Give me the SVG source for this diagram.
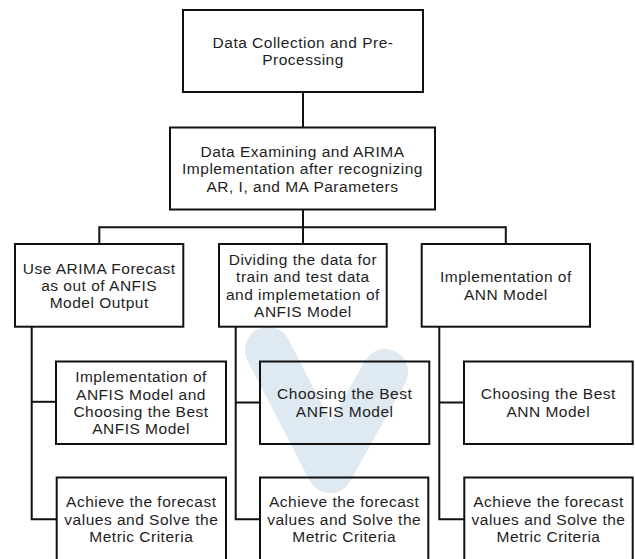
<svg xmlns="http://www.w3.org/2000/svg" width="635" height="559" viewBox="0 0 635 559">
  <defs>
    <style>
      .box { fill: none; stroke: #111111; stroke-width: 2; }
      .wm { fill: none; stroke: #dfe9f1; stroke-linecap: round; stroke-linejoin: round; }
      .conn { fill: none; stroke: #111111; stroke-width: 2; }
      text { font-family: "Liberation Sans", Arial, sans-serif; font-size: 15.5px; letter-spacing: 0.5px; fill: #1e1e1e; text-anchor: middle; }
    </style>
  </defs>
  <rect x="0" y="0" width="635" height="559" fill="#ffffff"/>

  <g id="watermark">
    <polyline class="wm" stroke-width="46" points="268,350 330,470 385,372"/>
  </g>

  <g id="connectors">
    <line class="conn" x1="303" y1="92" x2="303" y2="127.5"/>
    <line class="conn" x1="303" y1="209.5" x2="303" y2="244"/>
    <polyline class="conn" points="99.3,244 99.3,227.3 505.8,227.3 505.8,244"/>
    <polyline class="conn" points="31.7,326.7 31.7,519.3 56.5,519.3"/>
    <line class="conn" x1="31.7" y1="401.8" x2="56" y2="401.8"/>
    <polyline class="conn" points="235.7,326.7 235.7,519.3 260,519.3"/>
    <line class="conn" x1="235.7" y1="402.5" x2="260" y2="402.5"/>
    <polyline class="conn" points="439.3,326.7 439.3,519.3 464.3,519.3"/>
    <line class="conn" x1="439.3" y1="402.5" x2="464" y2="402.5"/>
  </g>

  <g id="n1">
    <rect class="box" x="183" y="10" width="240" height="82"/>
    <text x="303" y="47.9">Data Collection and Pre-</text>
    <text x="303" y="65.3">Processing</text>
  </g>

  <g id="n2">
    <rect class="box" x="170" y="127.5" width="265" height="82"/>
    <text x="302.5" y="156.7">Data Examining and ARIMA</text>
    <text x="302.5" y="174.1">Implementation  after recognizing</text>
    <text x="302.5" y="191.5">AR, I, and MA Parameters</text>
  </g>

  <g id="n3">
    <rect class="box" x="15" y="244" width="168.3" height="82.7"/>
    <text x="99.2" y="273.5">Use ARIMA Forecast</text>
    <text x="99.2" y="290.9">as out of ANFIS</text>
    <text x="99.2" y="308.3">Model Output</text>
  </g>

  <g id="n4">
    <rect class="box" x="219" y="244" width="167.7" height="82.7"/>
    <text x="302.9" y="264.8">Dividing the data for</text>
    <text x="302.9" y="282.2">train and test data</text>
    <text x="302.9" y="299.6">and implemetation  of</text>
    <text x="302.9" y="317">ANFIS Model</text>
  </g>

  <g id="n5">
    <rect class="box" x="421.7" y="244" width="168.3" height="82.7"/>
    <text x="505.9" y="282.2">Implementation  of</text>
    <text x="505.9" y="299.6">ANN Model</text>
  </g>

  <g id="n6">
    <rect class="box" x="56" y="361.5" width="170" height="82.5"/>
    <text x="141" y="382.2">Implementation  of</text>
    <text x="141" y="399.6">ANFIS Model and</text>
    <text x="141" y="417">Choosing the Best</text>
    <text x="141" y="434.4">ANFIS Model</text>
  </g>

  <g id="n7">
    <rect class="box" x="260" y="361.5" width="169.3" height="82.5"/>
    <text x="344.7" y="399.3">Choosing the Best</text>
    <text x="344.7" y="416.7">ANFIS Model</text>
  </g>

  <g id="n8">
    <rect class="box" x="464" y="361.5" width="168.7" height="82.5"/>
    <text x="548.3" y="399.3">Choosing the Best</text>
    <text x="548.3" y="416.7">ANN Model</text>
  </g>

  <g id="n9">
    <rect class="box" x="56.7" y="477.5" width="169.3" height="84"/>
    <text x="141.3" y="507.1">Achieve the forecast</text>
    <text x="141.3" y="524.5">values and Solve the</text>
    <text x="141.3" y="541.9">Metric Criteria</text>
  </g>

  <g id="n10">
    <rect class="box" x="260" y="477.5" width="168.3" height="84"/>
    <text x="344.2" y="507.1">Achieve the forecast</text>
    <text x="344.2" y="524.5">values and Solve the</text>
    <text x="344.2" y="541.9">Metric Criteria</text>
  </g>

  <g id="n11">
    <rect class="box" x="464.3" y="477.5" width="168.4" height="84"/>
    <text x="548.5" y="507.1">Achieve the forecast</text>
    <text x="548.5" y="524.5">values and Solve the</text>
    <text x="548.5" y="541.9">Metric Criteria</text>
  </g>
</svg>
